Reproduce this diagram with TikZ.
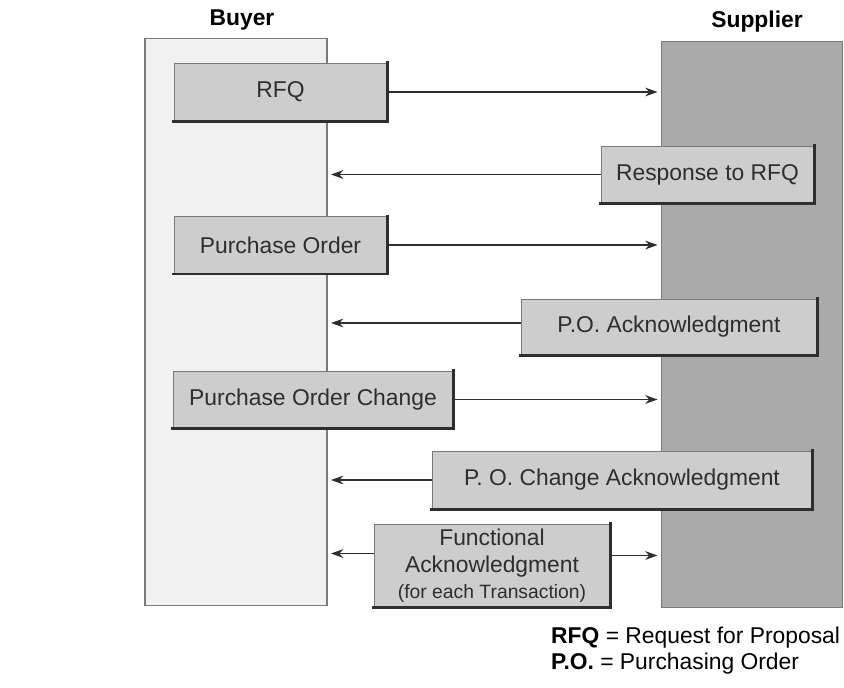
\documentclass[tikz,border=0pt]{standalone}
\usepackage{fontspec}
\setmainfont{Liberation Sans}
\usetikzlibrary{arrows.meta}

\definecolor{buyergray}{HTML}{F1F1F1}
\definecolor{suppliergray}{HTML}{AAAAAA}
\definecolor{boxgray}{HTML}{CDCDCD}
\definecolor{edgegray}{HTML}{7A7A7A}
\definecolor{inkgray}{HTML}{2E2E2E}

\tikzset{
    column/.style={draw=edgegray, line width=0.6pt, inner sep=0pt},
    msgbox/.style={fill=boxgray, draw=edgegray, line width=0.5pt, inner sep=0pt,
        text=inkgray, font=\fontsize{13}{15.6}\selectfont, align=center},
    shadowline/.style={draw=inkgray, line width=1.6pt, line cap=rect},
    msgarrow/.style={draw=inkgray, line width=0.6pt, shorten >=2pt,
        -{Stealth[length=7pt,width=5pt]}},
    heading/.style={font=\fontsize{13}{15.6}\selectfont\bfseries}
}

\begin{document}
\begin{tikzpicture}[x=0.02cm, y=-0.02cm]
    \useasboundingbox (0, 0) rectangle (844, 687);

    % The two parties
    \node[column, fill=buyergray, minimum width=3.64cm, minimum height=11.36cm] (buyer) at (236, 322) {};
    \node[column, fill=suppliergray, minimum width=3.62cm, minimum height=11.34cm] (supplier) at (752, 324.5) {};
    \node[heading] (buyerlabel) at (242, 20) {Buyer};
    \node[heading] (supplierlabel) at (757, 22) {Supplier};

    % Messages sent by the buyer
    \node[msgbox, minimum width=4.26cm, minimum height=1.16cm] (rfq) at (280.5, 92) {RFQ};
    \node[msgbox, minimum width=4.26cm, minimum height=1.14cm] (po) at (280.5, 245) {Purchase Order};
    \node[msgbox, minimum width=5.6cm, minimum height=1.14cm] (poc) at (313, 399.5) {Purchase Order Change};

    % Messages sent by the supplier
    \node[msgbox, minimum width=4.26cm, minimum height=1.14cm] (resp) at (707.5, 174.5) {Response to RFQ};
    \node[msgbox, minimum width=5.92cm, minimum height=1.12cm] (poack) at (669, 327) {P.O. Acknowledgment};
    \node[msgbox, minimum width=7.6cm, minimum height=1.16cm] (pocack) at (622, 480) {P. O. Change Acknowledgment};
    \node[msgbox, minimum width=4.72cm, minimum height=1.66cm] (fa) at (492, 565.5)
        {Functional\\Acknowledgment\\[-1pt]{\fontsize{11}{13}\selectfont(for each Transaction)}};

    % Shadows along bottom and right edges
    \foreach \n in {rfq, po, poc, resp, poack, pocack, fa} {
        \draw[shadowline] (\n.south west) -- (\n.south east) -- (\n.north east);
    }

    % Arrows to the supplier
    \draw[msgarrow] (rfq.east) -- (rfq.east -| supplier.west);
    \draw[msgarrow] (po.east) -- (po.east -| supplier.west);
    \draw[msgarrow] (poc.east) -- (poc.east -| supplier.west);
    \draw[msgarrow] ([yshift=0.2cm]fa.east) -- ([yshift=0.2cm]fa.east -| supplier.west);

    % Arrows to the buyer
    \draw[msgarrow] (resp.west) -- (resp.west -| buyer.east);
    \draw[msgarrow] ([yshift=0.08cm]poack.west) -- ([yshift=0.08cm]poack.west -| buyer.east);
    \draw[msgarrow] (pocack.west) -- (pocack.west -| buyer.east);
    \draw[msgarrow] ([yshift=0.24cm]fa.west) -- ([yshift=0.24cm]fa.west -| buyer.east);

    % Legend
    \node[anchor=base west, font=\fontsize{13}{15.6}\selectfont] (legendrfq) at (545, 643)
        {\textbf{RFQ} = Request for Proposal};
    \node[anchor=base west, font=\fontsize{13}{15.6}\selectfont] (legendpo) at (545, 669)
        {\textbf{P.O.} = Purchasing Order};

\end{tikzpicture}
\end{document}
